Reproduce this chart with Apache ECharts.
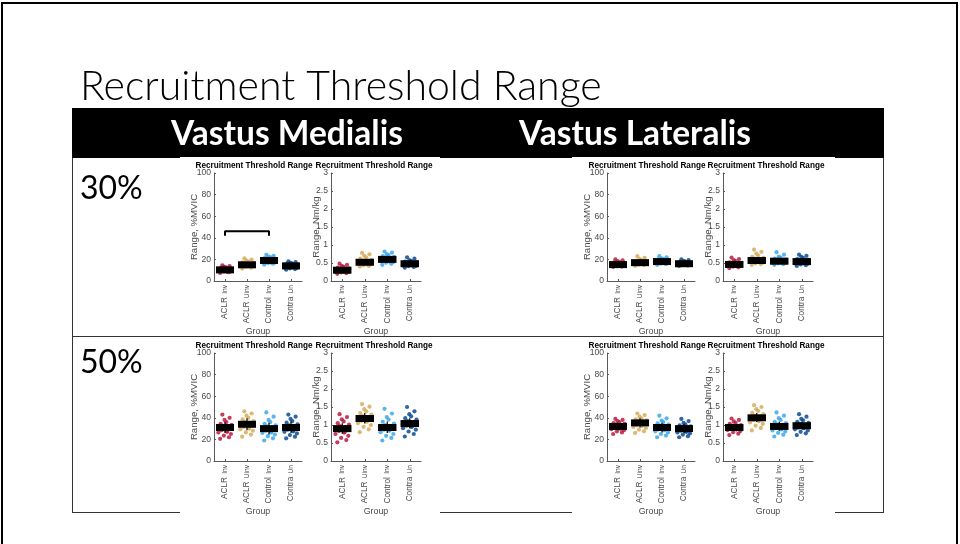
<!DOCTYPE html>
<html><head><meta charset="utf-8">
<script src="https://cdn.jsdelivr.net/npm/echarts@6/dist/echarts.min.js"></script>
<style>html,body{margin:0;padding:0;background:#fff}#c{width:960px;height:544px}</style>
</head><body><div id="c"></div>
<script>
// ---------- DATA ----------
const categories = ['ACLR Inv', 'ACLR Uinv', 'Control Inv', 'Contra Un'];
const groupColors = ['#BC1A3E', '#D6AB5C', '#3CA7EC', '#0A4B94'];
const JITTER = [-0.22,0.18,-0.05,0.27,-0.30,0.08,-0.15,0.24,0.02,-0.27,0.13,-0.10,0.30,-0.20,0.06,-0.02,0.21,-0.12,0.10,-0.25];

// Vastus Medialis 30% (%MVIC)
const vm30Mvic_aclrInv   = [7.5,8.2,8.8,9.1,9.4,9.7,9.9,10.1,10.3,10.6,10.9,11.2,11.5,12.0,12.4,13.1,13.8,14.6,8.5,10.0];
const vm30Mvic_aclrUninv = [11.5,12.4,13.0,13.5,14.0,14.3,14.6,14.9,15.2,15.5,15.8,16.2,16.7,17.3,18.0,18.9,19.8,21.0,13.8,15.0];
const vm30Mvic_control   = [15.2,16.0,16.6,17.1,17.5,17.9,18.3,18.6,18.9,19.2,19.6,20.0,20.5,21.1,21.8,22.6,23.4,24.2,17.0,19.0];
const vm30Mvic_contra    = [10.4,11.0,11.6,12.0,12.4,12.8,13.1,13.4,13.7,14.0,14.3,14.7,15.1,15.6,16.1,16.8,17.4,18.2,12.6,14.0];
const vm30Mvic_median = [10.3, 15.0, 19.0, 14.0];
const vm30Mvic_lo = [8.8, 13.3, 17.3, 12.3];
const vm30Mvic_hi = [11.9, 16.8, 20.8, 15.7];
const vm30Mvic_bracketX = [1, 1, 3, 3];
const vm30Mvic_bracketY = [42, 46, 46, 42];

// Vastus Medialis 30% (Nm/kg)
const vm30Nm_aclrInv   = [0.20,0.22,0.24,0.25,0.26,0.27,0.28,0.29,0.30,0.31,0.32,0.33,0.35,0.37,0.39,0.42,0.45,0.48,0.25,0.30];
const vm30Nm_aclrUninv = [0.40,0.42,0.44,0.46,0.48,0.49,0.50,0.51,0.52,0.53,0.55,0.57,0.59,0.62,0.66,0.70,0.74,0.78,0.47,0.52];
const vm30Nm_control   = [0.45,0.48,0.51,0.53,0.55,0.57,0.58,0.59,0.60,0.61,0.63,0.65,0.67,0.69,0.72,0.75,0.79,0.82,0.54,0.60];
const vm30Nm_contra    = [0.37,0.39,0.41,0.42,0.43,0.44,0.45,0.46,0.47,0.48,0.49,0.50,0.52,0.54,0.56,0.58,0.62,0.66,0.44,0.48];
const vm30Nm_median = [0.30, 0.52, 0.60, 0.48];
const vm30Nm_lo = [0.25, 0.46, 0.54, 0.43];
const vm30Nm_hi = [0.35, 0.59, 0.67, 0.53];

// Vastus Lateralis 30% (%MVIC)
const vl30Mvic_aclrInv   = [13.0,13.4,13.8,14.1,14.4,14.7,14.9,15.1,15.3,15.5,15.8,16.1,16.5,17.0,17.6,18.4,19.2,20.0,14.5,15.2];
const vl30Mvic_aclrUninv = [14.0,14.6,15.1,15.5,15.9,16.2,16.5,16.8,17.0,17.2,17.5,17.8,18.2,18.7,19.4,20.3,21.5,23.0,16.3,17.0];
const vl30Mvic_control   = [15.0,15.6,16.1,16.5,16.9,17.2,17.5,17.8,18.0,18.2,18.5,18.8,19.2,19.7,20.3,21.0,22.0,23.0,17.3,18.0];
const vl30Mvic_contra    = [14.0,14.4,14.7,15.0,15.3,15.5,15.7,15.9,16.1,16.3,16.5,16.8,17.1,17.5,18.0,18.6,19.3,20.0,15.6,16.2];
const vl30Mvic_median = [15.2, 17.0, 18.0, 16.0];
const vl30Mvic_lo = [14.0, 15.7, 16.6, 15.0];
const vl30Mvic_hi = [16.5, 18.6, 19.5, 17.2];

// Vastus Lateralis 30% (Nm/kg)
const vl30Nm_aclrInv   = [0.36,0.38,0.40,0.41,0.42,0.43,0.44,0.45,0.46,0.47,0.48,0.49,0.50,0.52,0.55,0.58,0.61,0.65,0.43,0.46];
const vl30Nm_aclrUninv = [0.45,0.47,0.49,0.51,0.53,0.54,0.55,0.56,0.57,0.58,0.60,0.62,0.64,0.67,0.71,0.76,0.81,0.87,0.54,0.57];
const vl30Nm_control   = [0.45,0.47,0.49,0.50,0.51,0.52,0.53,0.54,0.55,0.56,0.57,0.58,0.60,0.62,0.65,0.68,0.73,0.80,0.52,0.55];
const vl30Nm_contra    = [0.42,0.44,0.46,0.48,0.49,0.50,0.51,0.52,0.53,0.54,0.55,0.57,0.59,0.61,0.64,0.67,0.70,0.73,0.51,0.54];
const vl30Nm_median = [0.46, 0.57, 0.55, 0.54];
const vl30Nm_lo = [0.41, 0.51, 0.50, 0.49];
const vl30Nm_hi = [0.51, 0.64, 0.61, 0.60];

// Vastus Medialis 50% (%MVIC)
const vm50Mvic_aclrInv   = [20.5,22.0,23.5,25.0,26.5,27.5,28.5,29.5,30.5,31.0,31.5,32.5,33.5,34.5,36.0,38.0,40.0,43.0,27.0,31.0];
const vm50Mvic_aclrUninv = [22.5,24.5,26.5,28.0,29.5,30.5,31.5,32.5,33.5,34.0,35.0,36.0,37.0,38.5,40.0,42.0,44.0,46.0,30.0,34.5];
const vm50Mvic_control   = [19.0,21.0,23.0,24.5,26.0,27.0,28.0,29.0,29.5,30.0,31.0,32.0,33.0,34.5,36.0,38.0,41.0,45.0,26.5,30.0];
const vm50Mvic_contra    = [21.0,22.5,24.0,25.5,27.0,28.0,29.0,30.0,30.5,31.0,32.0,33.0,34.0,35.5,37.0,39.0,41.0,43.0,27.5,31.5];
const vm50Mvic_median = [31.0, 34.0, 30.0, 31.0];
const vm50Mvic_lo = [26.0, 28.5, 24.5, 26.0];
const vm50Mvic_hi = [36.0, 39.5, 35.5, 36.5];

// Vastus Medialis 50% (Nm/kg)
const vm50Nm_aclrInv   = [0.52,0.58,0.64,0.70,0.75,0.79,0.83,0.86,0.89,0.91,0.94,0.97,1.01,1.05,1.10,1.16,1.22,1.30,0.80,0.90];
const vm50Nm_aclrUninv = [0.80,0.88,0.95,1.00,1.05,1.09,1.12,1.15,1.17,1.19,1.22,1.25,1.29,1.33,1.38,1.44,1.51,1.58,1.10,1.18];
const vm50Nm_control   = [0.57,0.64,0.70,0.75,0.80,0.84,0.87,0.90,0.92,0.94,0.97,1.00,1.04,1.09,1.15,1.22,1.32,1.45,0.85,0.93];
const vm50Nm_contra    = [0.68,0.75,0.82,0.87,0.91,0.95,0.98,1.01,1.03,1.05,1.08,1.11,1.15,1.19,1.24,1.30,1.38,1.50,0.96,1.04];
const vm50Nm_median = [0.90, 1.18, 0.93, 1.04];
const vm50Nm_lo = [0.76, 1.04, 0.78, 0.90];
const vm50Nm_hi = [1.05, 1.33, 1.10, 1.19];

// Vastus Lateralis 50% (%MVIC)
const vl50Mvic_aclrInv   = [25.0,26.5,27.5,28.5,29.5,30.2,30.8,31.4,32.0,32.5,33.0,33.6,34.3,35.0,36.0,37.0,38.0,39.0,30.0,32.0];
const vl50Mvic_aclrUninv = [26.0,27.5,29.0,30.5,31.5,32.5,33.3,34.0,34.8,35.3,36.0,36.8,37.6,38.5,39.6,41.0,42.5,44.0,33.0,35.5];
const vl50Mvic_control   = [22.0,23.5,25.0,26.5,27.5,28.5,29.3,30.0,30.7,31.2,32.0,32.8,33.7,34.8,36.0,37.5,39.5,42.0,28.5,31.0];
const vl50Mvic_contra    = [22.0,23.0,24.5,25.5,26.5,27.3,28.0,28.8,29.5,30.0,30.6,31.3,32.0,33.0,34.0,35.3,37.0,39.0,27.0,30.0];
const vl50Mvic_median = [32.0, 35.3, 31.0, 30.0];
const vl50Mvic_lo = [28.5, 31.0, 26.5, 26.0];
const vl50Mvic_hi = [35.5, 39.5, 35.5, 34.0];

// Vastus Lateralis 50% (Nm/kg)
const vl50Nm_aclrInv   = [0.72,0.76,0.80,0.83,0.86,0.88,0.90,0.92,0.93,0.94,0.96,0.98,1.00,1.03,1.06,1.10,1.14,1.18,0.88,0.93];
const vl50Nm_aclrUninv = [0.85,0.92,0.98,1.03,1.07,1.11,1.14,1.17,1.19,1.21,1.23,1.26,1.30,1.34,1.39,1.44,1.50,1.55,1.12,1.20];
const vl50Nm_control   = [0.68,0.73,0.78,0.82,0.85,0.88,0.91,0.93,0.95,0.97,0.99,1.02,1.05,1.09,1.14,1.19,1.26,1.35,0.88,0.96];
const vl50Nm_contra    = [0.72,0.77,0.81,0.85,0.88,0.91,0.93,0.95,0.97,0.99,1.01,1.03,1.06,1.09,1.13,1.17,1.23,1.30,0.92,0.98];
const vl50Nm_median = [0.93, 1.20, 0.96, 0.98];
const vl50Nm_lo = [0.84, 1.08, 0.84, 0.88];
const vl50Nm_hi = [1.03, 1.33, 1.09, 1.09];

const yTicksMvic = {min: 0, max: 100, interval: 20};
const yTicksNm = {min: 0, max: 3, interval: 0.5};

// ---------- LAYOUT ----------
const ROW_TOP = [173, 353];
const PLOT_H = 108;
const panels = [
  {g:[vm30Mvic_aclrInv,vm30Mvic_aclrUninv,vm30Mvic_control,vm30Mvic_contra], med:vm30Mvic_median, lo:vm30Mvic_lo, hi:vm30Mvic_hi, kind:'mvic', left:214, w:88, row:0, bx:vm30Mvic_bracketX, by:vm30Mvic_bracketY},
  {g:[vm30Nm_aclrInv,vm30Nm_aclrUninv,vm30Nm_control,vm30Nm_contra], med:vm30Nm_median, lo:vm30Nm_lo, hi:vm30Nm_hi, kind:'nm', left:331, w:90, row:0},
  {g:[vl30Mvic_aclrInv,vl30Mvic_aclrUninv,vl30Mvic_control,vl30Mvic_contra], med:vl30Mvic_median, lo:vl30Mvic_lo, hi:vl30Mvic_hi, kind:'mvic', left:607, w:88, row:0},
  {g:[vl30Nm_aclrInv,vl30Nm_aclrUninv,vl30Nm_control,vl30Nm_contra], med:vl30Nm_median, lo:vl30Nm_lo, hi:vl30Nm_hi, kind:'nm', left:723, w:90, row:0},
  {g:[vm50Mvic_aclrInv,vm50Mvic_aclrUninv,vm50Mvic_control,vm50Mvic_contra], med:vm50Mvic_median, lo:vm50Mvic_lo, hi:vm50Mvic_hi, kind:'mvic', left:214, w:88, row:1},
  {g:[vm50Nm_aclrInv,vm50Nm_aclrUninv,vm50Nm_control,vm50Nm_contra], med:vm50Nm_median, lo:vm50Nm_lo, hi:vm50Nm_hi, kind:'nm', left:331, w:90, row:1},
  {g:[vl50Mvic_aclrInv,vl50Mvic_aclrUninv,vl50Mvic_control,vl50Mvic_contra], med:vl50Mvic_median, lo:vl50Mvic_lo, hi:vl50Mvic_hi, kind:'mvic', left:607, w:88, row:1},
  {g:[vl50Nm_aclrInv,vl50Nm_aclrUninv,vl50Nm_control,vl50Nm_contra], med:vl50Nm_median, lo:vl50Nm_lo, hi:vl50Nm_hi, kind:'nm', left:723, w:90, row:1}
];

const AX = '#5a5a5a';
const TXT = '#4a4a4a';
const grid = [], xAxis = [], yAxis = [], series = [];
const graphicTexts = [];

panels.forEach((p, i) => {
  const top = ROW_TOP[p.row];
  grid.push({left: p.left, top: top, width: p.w, height: PLOT_H});
  xAxis.push({type: 'value', gridIndex: i, position: 'bottom', min: 0.5, max: 4.5, show: false});
  xAxis.push({
    type: 'category', gridIndex: i, position: 'bottom', data: categories, boundaryGap: true, z: 3,
    axisLine: {show: true, onZero: false, lineStyle: {color: AX, width: 1}},
    axisTick: {show: true, inside: true, length: 2, alignWithLabel: true, lineStyle: {color: AX}},
    axisLabel: {
      rotate: 90, margin: 4, color: TXT, fontFamily: 'Liberation Sans',
      formatter: function (v) { const k = v.indexOf(' '); return '{a|' + v.slice(0, k) + '} {b|' + v.slice(k + 1) + '}'; },
      rich: {
        a: {fontSize: 8.2, color: TXT, fontFamily: 'Liberation Sans'},
        b: {fontSize: 6.6, color: TXT, fontFamily: 'Liberation Sans'}
      }
    },
    splitLine: {show: false},
    name: 'Group', nameLocation: 'middle', nameGap: 40,
    nameTextStyle: {fontSize: 8.8, color: TXT, fontFamily: 'Liberation Sans'}
  });
  const t = p.kind === 'mvic' ? yTicksMvic : yTicksNm;
  yAxis.push({
    type: 'value', gridIndex: i, min: t.min, max: t.max, interval: t.interval, z: 3,
    axisLine: {show: true, lineStyle: {color: AX, width: 1}},
    axisTick: {show: true, inside: true, length: 2, lineStyle: {color: AX}},
    axisLabel: {fontSize: 8.6, color: TXT, margin: 3, fontFamily: 'Liberation Sans'},
    splitLine: {show: false},
    name: p.kind === 'mvic' ? 'Range, %MVIC' : 'Range, Nm/kg',
    nameLocation: 'middle', nameGap: p.kind === 'mvic' ? 15 : 10, nameRotate: 90,
    nameMoveOverlap: false,
    nameTextStyle: {fontSize: 9.6, color: TXT, fontFamily: 'Liberation Sans'}
  });
  p.g.forEach((vals, gi) => {
    series.push({
      type: 'scatter', xAxisIndex: 2 * i, yAxisIndex: i, z: 4,
      symbolSize: 4.2, silent: true,
      itemStyle: {color: groupColors[gi], opacity: 0.85},
      data: vals.map((v, k) => [gi + 1 + JITTER[k % JITTER.length], v])
    });
  });
  series.push({
    type: 'custom', xAxisIndex: 2 * i, yAxisIndex: i, z: 5, silent: true,
    encode: {x: 0, y: 1},
    data: p.med.map((m, gi) => [gi + 1, m, p.lo[gi], p.hi[gi]]),
    renderItem: function (params, api) {
      const g = api.value(0), m = api.value(1), lo = api.value(2), hi = api.value(3);
      const a = api.coord([g - 0.41, m]), b = api.coord([g + 0.41, m]);
      const pl = api.coord([g, lo]), ph = api.coord([g, hi]);
      return {type: 'group', children: [
        {type: 'line', shape: {x1: pl[0], y1: pl[1], x2: ph[0], y2: ph[1]}, style: {stroke: '#000', lineWidth: 1.2}},
        {type: 'rect', shape: {x: a[0], y: a[1] - 3.5, width: b[0] - a[0], height: 7}, style: {fill: '#000'}}
      ]};
    }
  });
  if (p.bx) {
    series.push({
      type: 'line', xAxisIndex: 2 * i, yAxisIndex: i, z: 5, silent: true,
      symbol: 'none', lineStyle: {color: '#000', width: 2},
      data: p.bx.map((x, k) => [x, p.by[k]])
    });
  }
  graphicTexts.push({
    type: 'text', z: 6, x: p.left + p.w / 2 - (p.kind === 'mvic' ? 4 : 2), y: top - 7,
    style: {text: 'Recruitment Threshold Range', fontSize: 8.2, fontWeight: 'bold', fill: '#000', fontFamily: 'Liberation Sans', align: 'center', verticalAlign: 'middle'}
  });
});

const graphic = [
  // slide frame
  {type: 'rect', z: 0, shape: {x: 2, y: 3, width: 955, height: 600}, style: {fill: 'none', stroke: '#000', lineWidth: 2}},
  // slide title
  {type: 'text', z: 0, x: 80, y: 87, style: {text: 'Recruitment Threshold Range', fontSize: 41, fontWeight: 300, fontFamily: 'Lato', fill: '#000', verticalAlign: 'middle'}},
  // table header
  {type: 'rect', z: 0, shape: {x: 72, y: 108, width: 812, height: 50}, style: {fill: '#000'}},
  {type: 'text', z: 0, x: 287, y: 134, style: {text: 'Vastus Medialis', fontSize: 33.5, fontWeight: 'bold', fontFamily: 'Lato', fill: '#fff', align: 'center', verticalAlign: 'middle'}},
  {type: 'text', z: 0, x: 635, y: 134, style: {text: 'Vastus Lateralis', fontSize: 33.5, fontWeight: 'bold', fontFamily: 'Lato', fill: '#fff', align: 'center', verticalAlign: 'middle'}},
  // table lines
  {type: 'line', z: 0, shape: {x1: 72.5, y1: 158, x2: 72.5, y2: 513}, style: {stroke: '#333', lineWidth: 1}},
  {type: 'line', z: 0, shape: {x1: 883.5, y1: 158, x2: 883.5, y2: 513}, style: {stroke: '#333', lineWidth: 1}},
  {type: 'line', z: 0, shape: {x1: 72, y1: 336.5, x2: 884, y2: 336.5}, style: {stroke: '#333', lineWidth: 1}},
  {type: 'line', z: 0, shape: {x1: 72, y1: 512.5, x2: 884, y2: 512.5}, style: {stroke: '#333', lineWidth: 1}},
  {type: 'text', z: 0, x: 80, y: 189, style: {text: '30%', fontSize: 32, fontFamily: 'Lato', fill: '#000', verticalAlign: 'middle'}},
  {type: 'text', z: 0, x: 80, y: 363, style: {text: '50%', fontSize: 32, fontFamily: 'Lato', fill: '#000', verticalAlign: 'middle'}},
  // pasted figure backgrounds
  {type: 'rect', z: 1, shape: {x: 180, y: 157, width: 260, height: 178}, style: {fill: '#fff'}},
  {type: 'rect', z: 1, shape: {x: 572, y: 157, width: 263, height: 178}, style: {fill: '#fff'}},
  {type: 'rect', z: 1, shape: {x: 180, y: 338, width: 260, height: 176}, style: {fill: '#fff'}},
  {type: 'rect', z: 1, shape: {x: 572, y: 338, width: 263, height: 176}, style: {fill: '#fff'}}
].concat(graphicTexts);

const chart = echarts.init(document.getElementById('c'), null, {renderer: 'canvas'});
chart.setOption({
  animation: false,
  backgroundColor: '#fff',
  grid, xAxis, yAxis, series, graphic
});
</script>
</body></html>
